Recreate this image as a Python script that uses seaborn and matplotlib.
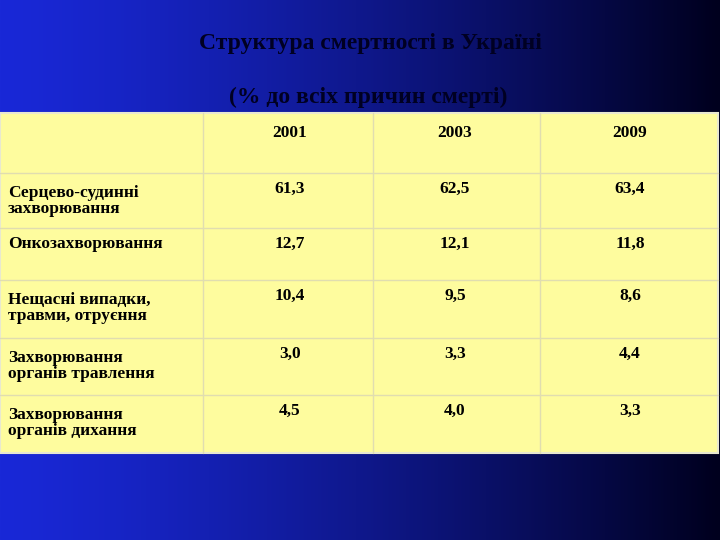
import numpy as np
import matplotlib.pyplot as plt
import seaborn as sns

sns.set_theme(style="white")
plt.rcParams['font.family'] = ['Liberation Serif', 'DejaVu Serif']

title1 = "Структура смертності в Україні"
title2 = "(% до всіх причин смерті)"
years = ["2001", "2003", "2009"]
causes = ["Серцево-судинні\nзахворювання", "Онкозахворювання",
          "Нещасні випадки,\nтравми, отруєння", "Захворювання\nорганів травлення",
          "Захворювання\nорганів дихання"]
v2001 = ["61,3", "12,7", "10,4", "3,0", "4,5"]
v2003 = ["62,5", "12,1", "9,5", "3,3", "4,0"]
v2009 = ["63,4", "11,8", "8,6", "4,4", "3,3"]

fig = plt.figure(figsize=(7.2, 5.4), dpi=100)
ax = fig.add_axes([0, 0, 1, 1])
ax.set_xlim(0, 720)
ax.set_ylim(540, 0)
ax.axis("off")

# gradient background
t = np.linspace(0, 1, 256)
left = np.array([25, 40, 215]) / 255
right = np.array([0, 0, 30]) / 255
grad = left[None, :] * (1 - t[:, None] ** 1.3) + right[None, :] * (t[:, None] ** 1.3)
ax.imshow(grad[None, :, :], extent=[0, 720, 540, 0], aspect="auto", zorder=0)

ax.text(370, 44, title1, ha="center", va="center", fontsize=17, weight="bold", color="#000022")
ax.text(368, 97, title2, ha="center", va="center", fontsize=17, weight="bold", color="#000022")

col_x = [0, 203, 373, 540, 718]
row_y = [113, 173, 228, 280, 338, 395, 453]
ax.add_patch(plt.Rectangle((0, 113), 718, 340, facecolor="#fefc9e",
                           edgecolor="#e8e8d0", lw=1.5, zorder=1))
for x in col_x[1:-1]:
    ax.plot([x, x], [113, 453], color="#e0ddb0", lw=1, zorder=2)
for y in row_y[1:-1]:
    ax.plot([0, 718], [y, y], color="#e0ddb0", lw=1, zorder=2)

centers = [290, 455, 630]
for cx, yr in zip(centers, years):
    ax.text(cx, 133, yr, ha="center", va="center", fontsize=12.5, weight="bold",
            color="black", zorder=3)
for i, lab in enumerate(causes):
    top = row_y[i + 1]
    ax.text(8, top + 28 if "\n" in lab else top + 16, lab, ha="left", va="center",
            fontsize=12.5, weight="bold", color="black", linespacing=1.05, zorder=3)
    for cx, vals in zip(centers, [v2001, v2003, v2009]):
        ax.text(cx, top + 16, vals[i], ha="center", va="center", fontsize=12.5,
                weight="bold", color="black", zorder=3)

fig.savefig("out.png", dpi=100)
